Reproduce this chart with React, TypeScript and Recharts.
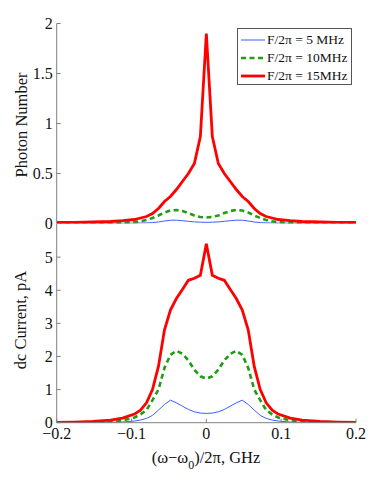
import { LineChart, Line, XAxis, YAxis } from "recharts";

// detuning (GHz)
const freq = [
  -0.2, -0.176, -0.152, -0.128, -0.112, -0.096, -0.088, -0.08, -0.072, -0.064, -0.056, -0.048,
  -0.04, -0.032, -0.024, -0.016, -0.008, 0, 0.008, 0.016, 0.024, 0.032, 0.04, 0.048, 0.056,
  0.064, 0.072, 0.08, 0.088, 0.096, 0.112, 0.128, 0.152, 0.176, 0.2,
];

// photon number
const photon5 = [
  0.002, 0.002, 0.002, 0.002, 0.003, 0.004, 0.005, 0.006, 0.009, 0.015, 0.025, 0.033,
  0.033, 0.028, 0.022, 0.016, 0.013, 0.012, 0.013, 0.016, 0.022, 0.028, 0.033, 0.033, 0.025,
  0.015, 0.009, 0.006, 0.005, 0.004, 0.003, 0.002, 0.002, 0.002, 0.002,
];
const photon10 = [
  0.002, 0.002, 0.003, 0.005, 0.008, 0.014, 0.022, 0.035, 0.055, 0.08, 0.11, 0.13,
  0.135, 0.125, 0.105, 0.08, 0.065, 0.06, 0.065, 0.08, 0.105, 0.125, 0.135, 0.13, 0.11,
  0.08, 0.055, 0.035, 0.022, 0.014, 0.008, 0.005, 0.003, 0.002, 0.002,
];
const photon15 = [
  0.01, 0.012, 0.015, 0.02, 0.028, 0.04, 0.055, 0.07, 0.1, 0.15, 0.22, 0.27,
  0.34, 0.42, 0.5, 0.6, 0.87, 1.9, 0.87, 0.6, 0.5, 0.42, 0.34, 0.27, 0.22,
  0.15, 0.1, 0.07, 0.055, 0.04, 0.028, 0.02, 0.015, 0.012, 0.01,
];

// dc current (pA)
const current5 = [
  0.005, 0.005, 0.008, 0.012, 0.02, 0.05, 0.08, 0.13, 0.22, 0.38, 0.55, 0.68,
  0.6, 0.5, 0.4, 0.33, 0.29, 0.28, 0.29, 0.33, 0.4, 0.5, 0.6, 0.68, 0.55,
  0.38, 0.22, 0.13, 0.08, 0.05, 0.02, 0.012, 0.008, 0.005, 0.005,
];
const current10 = [
  0.002, 0.005, 0.01, 0.03, 0.07, 0.16, 0.25, 0.38, 0.68, 1.0, 1.65, 2.05,
  2.17, 2.08, 1.88, 1.6, 1.4, 1.33, 1.4, 1.6, 1.88, 2.08, 2.17, 2.05, 1.65,
  1.0, 0.68, 0.38, 0.25, 0.16, 0.07, 0.03, 0.01, 0.005, 0.002,
];
const current15 = [
  0.01, 0.02, 0.04, 0.08, 0.14, 0.26, 0.38, 0.6, 1.0, 1.7, 2.8, 3.4,
  3.75, 4.02, 4.3, 4.36, 4.45, 5.4, 4.45, 4.36, 4.3, 4.02, 3.75, 3.4, 2.8,
  1.7, 1.0, 0.6, 0.38, 0.26, 0.14, 0.08, 0.04, 0.02, 0.01,
];

const xTicks = [-0.2, -0.1, 0, 0.1, 0.2];
const photonTicks = [0, 0.5, 1, 1.5, 2];
const currentTicks = [0, 1, 2, 3, 4, 5];

const seriesNames = ["F/2\u03c0 = 5 MHz", "F/2\u03c0 = 10MHz", "F/2\u03c0 = 15MHz"];

const topRows = freq.map((f, i) => ({ f, a: photon5[i], b: photon10[i], c: photon15[i] }));
const bottomRows = freq.map((f, i) => ({ f, a: current5[i], b: current10[i], c: current15[i] }));

const FONT = "'Liberation Serif', 'Times New Roman', serif";
const GREY = "#808080";
const BLUE = "#3f5cff";
const GREEN = "#1f9e12";
const RED = "#ff0000";

const styles = [
  { key: "a", color: BLUE, width: 1, dash: undefined },
  { key: "b", color: GREEN, width: 2.6, dash: "5 3.5" },
  { key: "c", color: RED, width: 2.8, dash: undefined },
];

const tickText = { fill: "#111", fontSize: 16, fontFamily: FONT };
const fmtX = (v: number) => (v < 0 ? "\u2212" + String(-v) : String(v));
const blank = () => "";

const YTitle = ({ text, cx, cy }: { text: string; cx: number; cy: number }) => (
  <text
    x={cx}
    y={cy}
    transform={`rotate(-90 ${cx} ${cy})`}
    textAnchor="middle"
    dominantBaseline="central"
    fontFamily={FONT}
    fontSize={16.5}
    fill="#111"
  >
    {text}
  </text>
);

const XTitle = () => (
  <text x={206} y={243} textAnchor="middle" fontFamily={FONT} fontSize={16.5} fill="#111">
    (ω−ω<tspan dy={6} fontSize={12}>0</tspan>
    <tspan dy={-6}>)/2π, GHz</tspan>
  </text>
);

const LegendBox = () => (
  <div
    style={{
      position: "absolute",
      left: 237,
      top: 28,
      border: "1px solid #555",
      background: "#fff",
      width: 115,
      height: 57,
      boxSizing: "border-box",
      paddingTop: 2,
      paddingLeft: 3,
      fontFamily: FONT,
      fontSize: 13.5,
      color: "#111",
    }}
  >
    {styles.map((s, i) => (
      <div key={s.key} style={{ display: "flex", alignItems: "center", height: 18 }}>
        <svg width={26} height={10} style={{ display: "block" }}>
          <line x1={0} x2={24} y1={5} y2={5} stroke={s.color} strokeWidth={s.width} strokeDasharray={s.dash} />
        </svg>
        <span style={{ whiteSpace: "nowrap" }}>{seriesNames[i]}</span>
      </div>
    ))}
  </div>
);

const frameAxes = (yDomain: number[], yTicks: number[], showX: boolean, title: JSX.Element) => [
  <XAxis
    key="xb"
    xAxisId="b"
    dataKey="f"
    type="number"
    domain={[-0.2, 0.2]}
    ticks={xTicks}
    interval={0}
    allowDataOverflow
    stroke={GREY}
    tickSize={-4}
    tickMargin={showX ? 8.5 : 0}
    tickFormatter={showX ? fmtX : blank}
    tick={tickText}
    height={showX ? 30 : 0}
    label={showX ? <XTitle /> : undefined}
  />,
  <XAxis
    key="xt"
    xAxisId="t"
    orientation="top"
    type="number"
    domain={[-0.2, 0.2]}
    ticks={xTicks}
    interval={0}
    allowDataOverflow
    stroke={GREY}
    tickSize={-4}
    tickFormatter={blank}
    height={0}
  />,
  <YAxis
    key="yl"
    yAxisId="l"
    type="number"
    domain={yDomain}
    ticks={yTicks}
    interval={0}
    allowDataOverflow
    stroke={GREY}
    tickSize={-4}
    tickMargin={8}
    tick={tickText}
    width={56.7}
    label={title}
  />,
  <YAxis
    key="yr"
    yAxisId="r"
    orientation="right"
    type="number"
    domain={yDomain}
    ticks={yTicks}
    interval={0}
    allowDataOverflow
    stroke={GREY}
    tickSize={-4}
    tickFormatter={blank}
    width={0}
  />,
];

const seriesLines = () =>
  styles.map((s) => (
    <Line
      key={s.key}
      xAxisId="b"
      yAxisId="l"
      type="linear"
      dataKey={s.key}
      stroke={s.color}
      strokeWidth={s.width}
      strokeDasharray={s.dash}
      dot={false}
      activeDot={false}
      isAnimationActive={false}
    />
  ));

export default function App() {
  return (
    <div style={{ position: "absolute", left: 0, top: 0, width: 374, height: 498, background: "#fff" }}>
      <div style={{ position: "absolute", left: 0, top: 220 }}>
        <LineChart width={374} height={278} data={bottomRows} margin={{ top: 4, right: 18, bottom: 45.3, left: 0 }}>
          {frameAxes([0, 6], currentTicks, true, <YTitle text="dc Current, pA" cx={20} cy={100} />)}
          {seriesLines()}
        </LineChart>
      </div>
      <div style={{ position: "absolute", left: 0, top: 0 }}>
        <LineChart width={374} height={236} data={topRows} margin={{ top: 23.5, right: 18, bottom: 12.5, left: 0 }}>
          {frameAxes([0, 2], photonTicks, false, <YTitle text="Photon Number" cx={21} cy={125} />)}
          {seriesLines()}
        </LineChart>
      </div>
      <LegendBox />
    </div>
  );
}
